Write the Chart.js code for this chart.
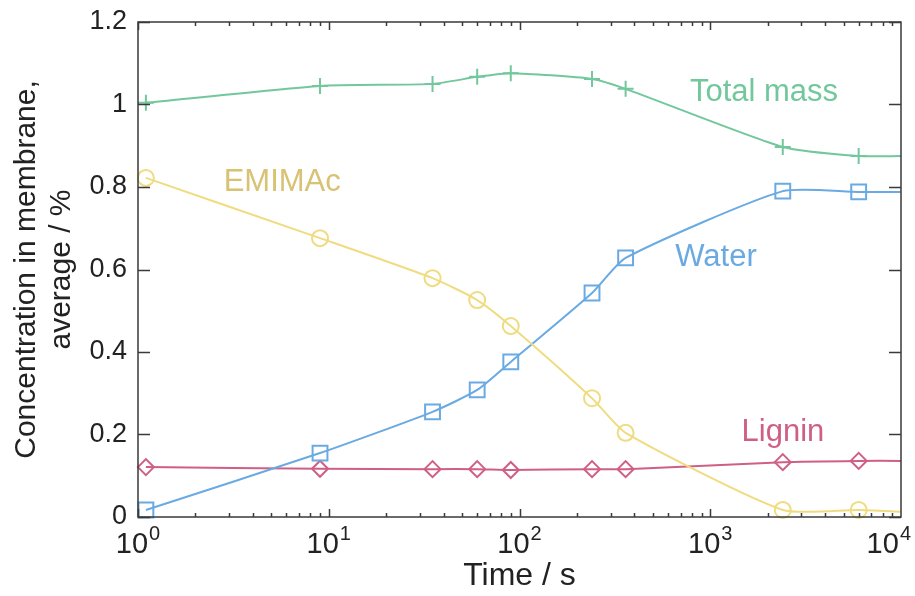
<!DOCTYPE html>
<html>
<head>
<meta charset="utf-8">
<script src="https://cdn.jsdelivr.net/npm/chart.js@4.4.1/dist/chart.umd.min.js"></script>
<style>
  html, body { margin: 0; padding: 0; background: #fff; }
  #wrap { width: 915px; height: 596px; }
</style>
</head>
<body>
<div id="wrap"><canvas id="myChart" width="915" height="596"></canvas></div>
<script>
// data (last point at 1e4 has no marker)
const times = [1.1, 9, 35, 60, 90, 240, 360, 2400, 6000, 10000];
const totalMass = [1.004, 1.045, 1.05, 1.067, 1.076, 1.062, 1.038, 0.897, 0.875, 0.875];
const emimac = [0.822, 0.676, 0.579, 0.526, 0.463, 0.288, 0.204, 0.017, 0.017, 0.013];
const water = [0.017, 0.155, 0.255, 0.308, 0.376, 0.543, 0.628, 0.790, 0.788, 0.788];
const lignin = [0.121, 0.117, 0.116, 0.116, 0.114, 0.116, 0.116, 0.133, 0.136, 0.136];

const seriesNames = ['Total mass', 'EMIMAc', 'Water', 'Lignin'];
const xTickValues = [1, 10, 100, 1000, 10000];
const xTickExponents = ['0', '1', '2', '3', '4'];
const yTickValues = [0, 0.2, 0.4, 0.6, 0.8, 1, 1.2];

const FONT = '"Liberation Sans", Arial, Helvetica, sans-serif';
const colors = {
    total: '#72c79c',
    emim: '#f0dc80',
    emimText: '#d8c274',
    water: '#6aaae2',
    lignin: '#cf5f85'
};

// series label positions in data units
const seriesLabels = [
    { text: seriesNames[0], x: 1914, y: 1.03, color: colors.total },
    { text: seriesNames[1], x: 5.7, y: 0.81, color: colors.emimText },
    { text: seriesNames[2], x: 1072, y: 0.63, color: colors.water },
    { text: seriesNames[3], x: 2406, y: 0.204, color: colors.lignin }
];

function toPoints(ys) {
    return times.map((t, i) => ({ x: t, y: ys[i] }));
}
function radii(r) {
    return times.map((t, i) => (i === times.length - 1 ? 0 : r));
}

function makeSeries(label, ys, color, style, r) {
    return {
        label: label,
        data: toPoints(ys),
        borderColor: color,
        backgroundColor: 'rgba(0,0,0,0)',
        pointBorderColor: color,
        pointBackgroundColor: 'rgba(0,0,0,0)',
        pointStyle: style,
        pointRadius: radii(r),
        pointBorderWidth: 2,
        borderWidth: 2,
        tension: 0.2,
        fill: false
    };
}

// frame, inward ticks, x labels with exponent, series labels
const axesPlugin = {
    id: 'axesPlugin',
    afterDraw(chart) {
        const ctx = chart.ctx;
        const a = chart.chartArea;
        const xs = chart.scales.x;
        const ys = chart.scales.y;
        ctx.save();
        ctx.strokeStyle = '#3a3a3a';
        ctx.lineWidth = 1.5;
        ctx.strokeRect(a.left, a.top, a.right - a.left, a.bottom - a.top);

        ctx.beginPath();
        // y ticks both sides
        yTickValues.forEach(v => {
            const py = Math.round(ys.getPixelForValue(v)) + 0.5;
            ctx.moveTo(a.left, py); ctx.lineTo(a.left + 12, py);
            ctx.moveTo(a.right, py); ctx.lineTo(a.right - 12, py);
        });
        // x ticks major + minor, bottom and top
        for (let d = 0; d < 4; d++) {
            for (let m = 1; m <= 9; m++) {
                const v = Math.pow(10, d) * m;
                const px = Math.round(xs.getPixelForValue(v)) + 0.5;
                const len = m === 1 ? 8 : 4;
                ctx.moveTo(px, a.bottom); ctx.lineTo(px, a.bottom - len);
                ctx.moveTo(px, a.top); ctx.lineTo(px, a.top + len);
            }
        }
        ctx.stroke();

        // x tick labels 10^n
        ctx.fillStyle = '#222';
        ctx.textBaseline = 'alphabetic';
        ctx.textAlign = 'left';
        xTickValues.forEach((v, i) => {
            const px = xs.getPixelForValue(v);
            ctx.font = '29px ' + FONT;
            const wBase = ctx.measureText('10').width;
            ctx.font = '20px ' + FONT;
            const wExp = ctx.measureText(xTickExponents[i]).width;
            const w = wBase + 1 + wExp;
            let x0 = px - w / 2;
            if (x0 + w > chart.width - 4) x0 = chart.width - 4 - w;
            ctx.font = '29px ' + FONT;
            ctx.fillText('10', x0, a.bottom + 36);
            ctx.font = '20px ' + FONT;
            ctx.fillText(xTickExponents[i], x0 + wBase + 1, a.bottom + 23);
        });

        // series labels
        ctx.font = '31px ' + FONT;
        ctx.textAlign = 'center';
        ctx.textBaseline = 'middle';
        seriesLabels.forEach(l => {
            ctx.fillStyle = l.color;
            ctx.fillText(l.text, xs.getPixelForValue(l.x), ys.getPixelForValue(l.y));
        });
        ctx.restore();
    }
};

const config = {
    type: 'line',
    data: {
        datasets: [
            makeSeries(seriesNames[0], totalMass, colors.total, 'cross', 8),
            makeSeries(seriesNames[1], emimac, colors.emim, 'circle', 8),
            makeSeries(seriesNames[2], water, colors.water, 'rect', 10.5),
            makeSeries(seriesNames[3], lignin, colors.lignin, 'rectRot', 8)
        ]
    },
    options: {
        responsive: false,
        animation: false,
        clip: false,
        layout: { padding: { top: 22, right: 14, left: 0, bottom: 0 } },
        plugins: {
            legend: { display: false },
            tooltip: { enabled: false }
        },
        scales: {
            x: {
                type: 'logarithmic',
                min: 1,
                max: 10000,
                afterBuildTicks: s => { s.ticks = xTickValues.map(v => ({ value: v })); },
                afterFit: s => { s.height = 79; s.paddingLeft = 0; s.paddingRight = 0; },
                grid: { display: false },
                border: { display: false },
                ticks: { display: false },
                title: {
                    display: true,
                    text: 'Time / s',
                    color: '#222',
                    font: { family: FONT, size: 32 },
                    padding: { top: 0, bottom: 1 }
                }
            },
            y: {
                min: 0,
                max: 1.2,
                afterBuildTicks: s => { s.ticks = yTickValues.map(v => ({ value: v })); },
                afterFit: s => { s.width = 138; s.paddingTop = 0; s.paddingBottom = 0; },
                grid: { display: false, drawTicks: false },
                border: { display: false },
                ticks: {
                    color: '#222',
                    padding: 11,
                    font: { family: FONT, size: 27 },
                    callback: v => String(+v.toFixed(1))
                },
                title: {
                    display: true,
                    text: ['Concentration in membrane,', 'average / %'],
                    color: '#222',
                    font: { family: FONT, size: 30, lineHeight: 1.17 },
                    padding: { top: 9, bottom: 0 }
                }
            }
        }
    },
    plugins: [axesPlugin]
};

new Chart(document.getElementById('myChart'), config);
</script>
</body>
</html>
